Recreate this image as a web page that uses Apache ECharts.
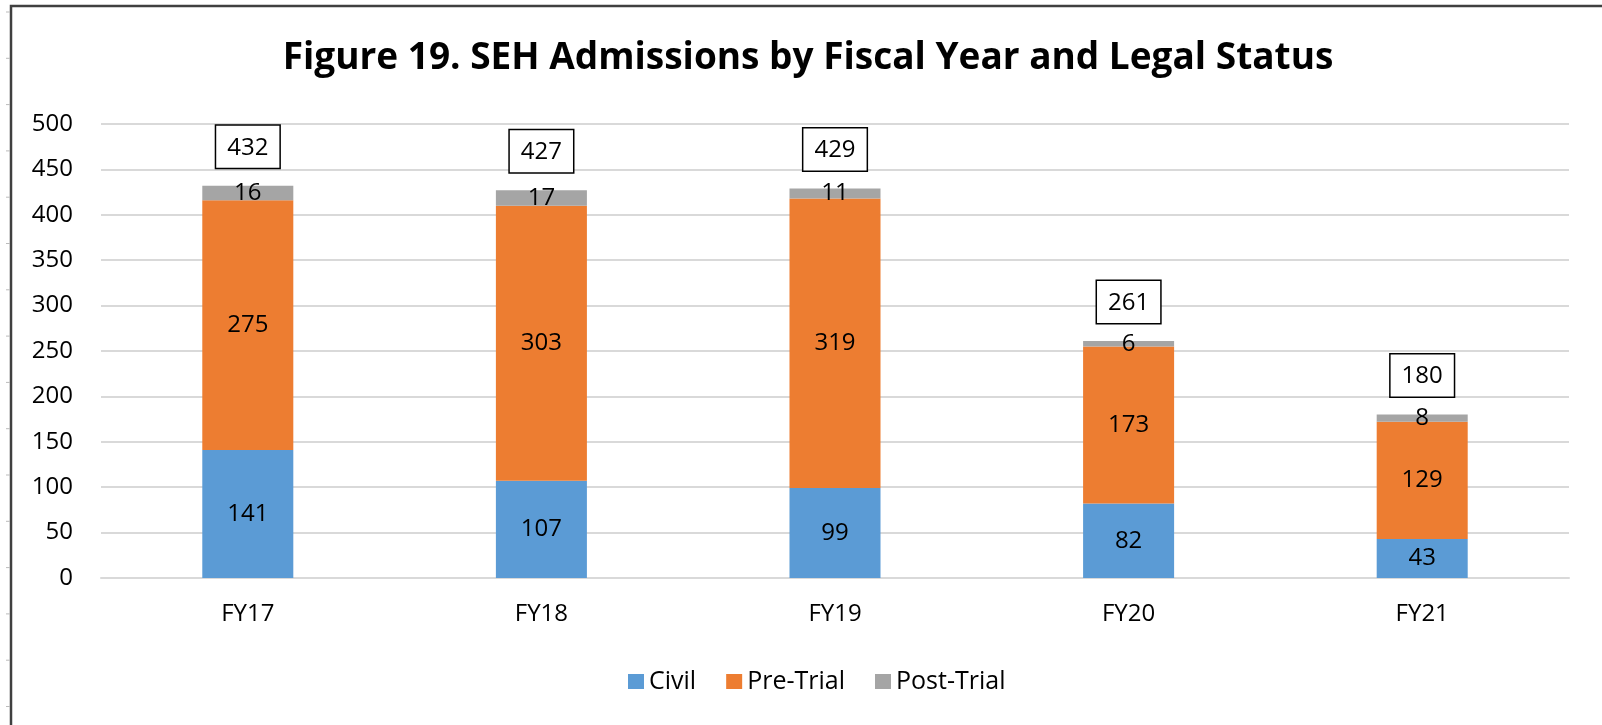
<!DOCTYPE html>
<html>
<head>
<meta charset="utf-8">
<script src="https://cdn.jsdelivr.net/npm/echarts@6/dist/echarts.min.js"></script>
<style>
html,body{margin:0;padding:0;background:#fff;}
#main{width:1602px;height:725px;}
</style>
</head>
<body>
<div id="main"></div>
<script>
var years = ['FY17', 'FY18', 'FY19', 'FY20', 'FY21'];
var civil = [141, 107, 99, 82, 43];
var preTrial = [275, 303, 319, 173, 129];
var postTrial = [16, 17, 11, 6, 8];
var totals = [432, 427, 429, 261, 180];

var myChart = echarts.init(document.getElementById('main'));
var font = 'Open Sans';

// little row markers at the left edge, like the spreadsheet behind the chart
var marks = [];
for (var y = 12; y < 725; y += 46.3) {
    marks.push({
        type: 'line',
        shape: {x1: 6, y1: y, x2: 10, y2: y},
        style: {stroke: '#bbb', lineWidth: 1}
    });
}

var segLabel = {
    show: true,
    position: 'inside',
    color: '#000',
    fontFamily: font,
    fontSize: 24
};

var option = {
    backgroundColor: '#fff',
    animation: false,
    title: {
        text: 'Figure 19. SEH Admissions by Fiscal Year and Legal Status',
        left: 803,
        textAlign: 'center',
        top: 35,
        textStyle: {
            fontFamily: font,
            fontWeight: 'bold',
            fontSize: 37,
            color: '#000'
        }
    },
    legend: {
        data: ['Civil', 'Pre-Trial', 'Post-Trial'],
        left: 623,
        top: 664,
        itemWidth: 16,
        itemHeight: 15,
        itemGap: 30,
        icon: 'rect',
        textStyle: {fontFamily: font, fontSize: 25, color: '#000'}
    },
    grid: {left: 101, right: 33, top: 124, bottom: 147},
    xAxis: {
        type: 'category',
        data: years,
        axisLine: {lineStyle: {color: '#d9d9d9', width: 2}},
        axisTick: {show: false},
        axisLabel: {fontFamily: font, fontSize: 24, color: '#000', margin: 24}
    },
    yAxis: {
        type: 'value',
        min: 0,
        max: 500,
        interval: 50,
        axisLine: {show: false},
        axisTick: {show: false},
        splitLine: {lineStyle: {color: '#d9d9d9', width: 2}},
        axisLabel: {fontFamily: font, fontSize: 24, color: '#000', margin: 28}
    },
    series: [
        {
            name: 'Civil',
            type: 'bar',
            stack: 'all',
            barWidth: '31%',
            data: civil,
            itemStyle: {color: '#5B9BD5'},
            label: segLabel
        },
        {
            name: 'Pre-Trial',
            type: 'bar',
            stack: 'all',
            barWidth: '31%',
            data: preTrial,
            itemStyle: {color: '#ED7D31'},
            label: segLabel
        },
        {
            name: 'Post-Trial',
            type: 'bar',
            stack: 'all',
            barWidth: '31%',
            data: postTrial,
            itemStyle: {color: '#A5A5A5'},
            label: segLabel,
            z: 3
        },
        {
            name: 'Total',
            type: 'bar',
            barWidth: '31%',
            barGap: '-100%',
            data: totals,
            itemStyle: {color: 'rgba(0,0,0,0)'},
            z: 1,
            label: {
                show: true,
                position: 'top',
                distance: 18,
                color: '#000',
                fontFamily: font,
                fontSize: 24,
                padding: [10, 11, 8, 11],
                borderColor: '#000',
                borderWidth: 1.5,
                backgroundColor: '#fff'
            }
        }
    ],
    graphic: [
        {
            type: 'polyline',
            shape: {points: [[11, 725], [11, 6], [1602, 6]]},
            style: {stroke: '#404040', lineWidth: 2.5, fill: null}
        }
    ].concat(marks)
};

myChart.setOption(option);
</script>
</body>
</html>
